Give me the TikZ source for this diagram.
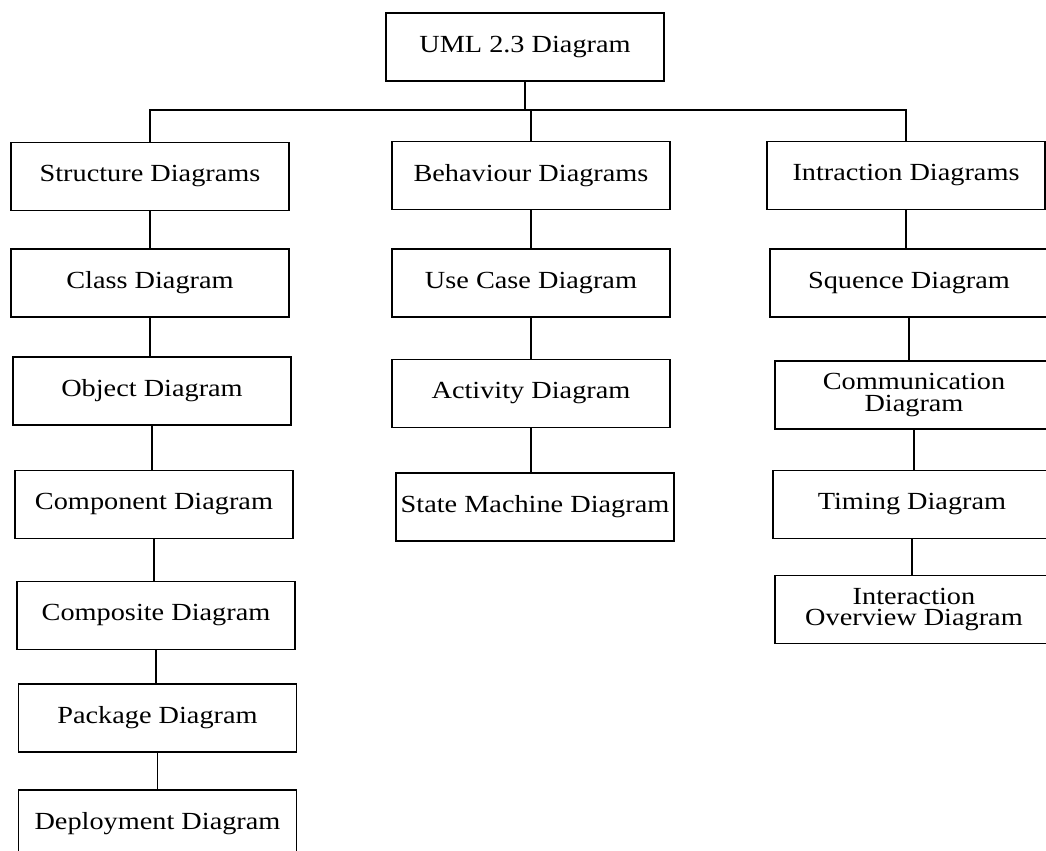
\documentclass[tikz,border=0pt]{standalone}
\usepackage{fontspec}
\setmainfont{Liberation Serif}[FakeStretch=1.15]
\usetikzlibrary{calc}
\tikzset{block/.style={draw, line width=1.1pt, minimum width=5.56cm, minimum height=1.36cm, align=center, inner sep=0pt, font=\fontsize{14}{12.5}\selectfont},
line/.style={line width=1.1pt}
}

\begin{document}
\begin{tikzpicture}[x=0.02cm,y=-0.02cm]
\useasboundingbox (0,0) rectangle (1046,851);
\clip (0,0) rectangle (1046,851);
\node[block] (a) at (525,47) {UML 2.3 Diagram};
% left column
\node[block] (b) at (150,176.5) {Structure Diagrams};
\node[block] (c) at (150,283) {Class Diagram};
\node[block] (d) at (152,391) {Object Diagram};
\node[block] (e) at (154,504.5) {Component Diagram};
\node[block] (f) at (156,615.5) {Composite Diagram};
\node[block] (g) at (157.5,718) {Package Diagram};
\node[block] (h) at (157.5,824) {Deployment Diagram};
% middle column
\node[block] (i) at (531,175.5) {Behaviour Diagrams};
\node[block] (j) at (531,283) {Use Case Diagram};
\node[block] (k) at (531,393.5) {Activity Diagram};
\node[block] (l) at (535,507) {State Machine Diagram};
% right column
\node[block] (m) at (906,175.5) {Intraction Diagrams};
\node[block] (n) at (909,283) {Squence Diagram};
\node[block] (o) at (914,395) {Communication\\Diagram};
\node[block] (p) at (912,504.5) {Timing Diagram};
\node[block] (q) at (914,609.5) {Interaction\\Overview Diagram};
\coordinate (bus) at ([yshift=-0.56cm]a.south);
\draw[line] (a.south) -- (bus);
\draw[line] (b.north) |- (bus) -| (m.north);
\draw[line] (i.north) -- (i.north |- bus);
\draw[line] (b.south) -- (b.south |- c.north);
\draw[line] (c.south) -- (c.south |- d.north);
\draw[line] (d.south) -- (d.south |- e.north);
\draw[line] (e.south) -- (e.south |- f.north);
\draw[line] (f.south) -- (f.south |- g.north);
\draw[line] (g.south) -- (g.south |- h.north);
\draw[line] (i.south) -- (i.south |- j.north);
\draw[line] (j.south) -- (j.south |- k.north);
\draw[line] (k.south) -- (k.south |- l.north);
\draw[line] (m.south) -- (m.south |- n.north);
\draw[line] (n.south) -- (n.south |- o.north);
\draw[line] (o.south) -- (o.south |- p.north);
\draw[line] (p.south) -- (p.south |- q.north);
\end{tikzpicture}
\end{document}
